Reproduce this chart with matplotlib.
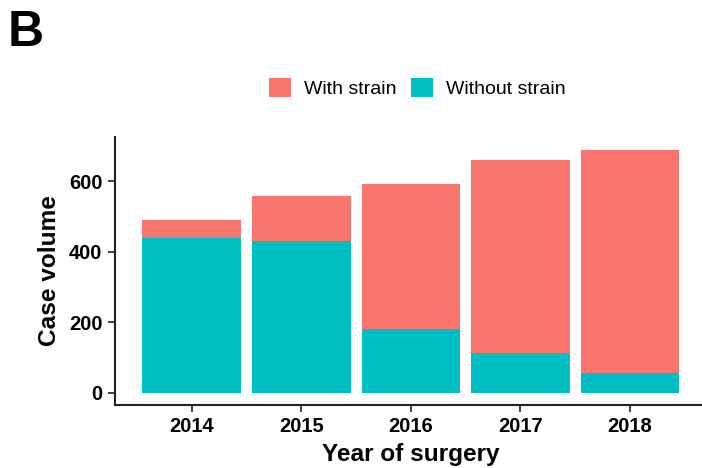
import matplotlib.pyplot as plt
from matplotlib.patches import Patch
import numpy as np

plt.rcParams['font.family'] = ['Liberation Sans', 'DejaVu Sans']

years = ['2014', '2015', '2016', '2017', '2018']
without_strain = [440, 431, 181, 114, 55]
with_strain = [49, 127, 410, 547, 635]   # stacked on top
series_names = ['With strain', 'Without strain']
col_with = '#F8766D'
col_without = '#00BFC4'

W, H = 702, 468
fig = plt.figure(figsize=(W / 100, H / 100), dpi=100)
ax = fig.add_axes([115 / W, 1 - 405 / H, (706.6 - 115) / W, (405 - 136.7) / H])

x = np.arange(1, len(years) + 1)
ax.bar(x, without_strain, width=0.9, color=col_without, edgecolor='none')
ax.bar(x, with_strain, width=0.9, bottom=without_strain, color=col_with, edgecolor='none')

ax.set_xlim(0.3, 5.7)
ax.set_ylim(-34.6, 726.6)
ax.set_xticks(x)
ax.set_xticklabels(years)
ax.set_yticks([0, 200, 400, 600])

for s in ['top', 'right']:
    ax.spines[s].set_visible(False)
for s in ['left', 'bottom']:
    ax.spines[s].set_linewidth(1.5)
    ax.spines[s].set_color('#222222')

ax.tick_params(axis='both', length=5, width=1.3, color='#333333', labelsize=14.5, pad=4)
for lab in ax.get_xticklabels() + ax.get_yticklabels():
    lab.set_fontweight('bold')

ax.set_xlabel('Year of surgery', fontsize=17.6, fontweight='bold', labelpad=5)
ax.set_ylabel('Case volume', fontsize=17.6, fontweight='bold', labelpad=6)

handles = [Patch(facecolor=col_with), Patch(facecolor=col_without)]
fig.legend(handles, series_names, loc='center', bbox_to_anchor=(417.4 / W, 1 - 88 / H),
           ncol=2, frameon=False, fontsize=14, handlelength=1.14, handleheight=1.14,
           handletextpad=0.69, columnspacing=0.72, borderpad=0, borderaxespad=0)

fig.text(8 / W, 1 - 33 / H, 'B', fontsize=36, fontweight='bold', va='center', ha='left')

fig.savefig('out.png', dpi=100)
